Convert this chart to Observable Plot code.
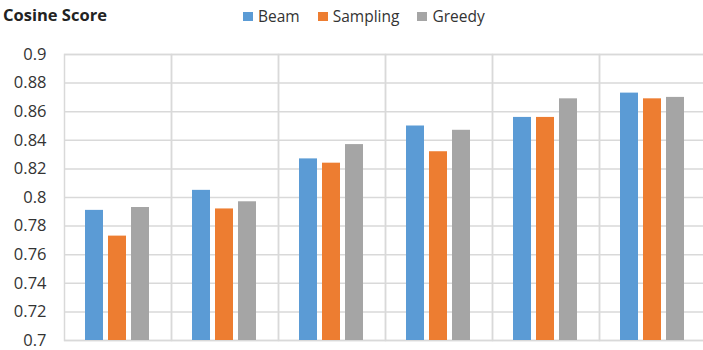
<!DOCTYPE html>
<html>
<head>
<meta charset="utf-8">
<script src="https://cdn.jsdelivr.net/npm/d3@7"></script>
<script src="https://cdn.jsdelivr.net/npm/@observablehq/plot@0.6"></script>
<style>
  html, body { margin: 0; padding: 0; background: #fff; overflow: hidden; }
  #wrap { position: relative; width: 703px; height: 350px; font-family: "Open Sans", sans-serif; }
  #title { position: absolute; left: 3px; top: 4px; font-weight: bold; font-size: 16.5px; line-height: 22px; color: #222; }
  #legend { position: absolute; left: 243px; top: 5px; font-size: 15.5px; line-height: 22px; color: #333; display: flex; }
  .item { display: flex; align-items: center; margin-right: 18px; }
  .sw { width: 10px; height: 9px; margin-right: 5px; }
  #chart { position: absolute; left: 0; top: 30px; }
</style>
</head>
<body>
<div id="wrap">
  <div id="title">Cosine Score</div>
  <div id="legend"></div>
  <div id="chart"></div>
</div>
<script>
const groups = ["1", "2", "3", "4", "5", "6"];
const seriesNames = ["Beam", "Sampling", "Greedy"];
const seriesColors = ["#5B9BD5", "#ED7D31", "#A5A5A5"];
const beam     = [0.791, 0.805, 0.827, 0.850, 0.856, 0.873];
const sampling = [0.773, 0.792, 0.824, 0.832, 0.856, 0.869];
const greedy   = [0.793, 0.797, 0.837, 0.847, 0.869, 0.870];
const yTicks = [0.7, 0.72, 0.74, 0.76, 0.78, 0.8, 0.82, 0.84, 0.86, 0.88, 0.9];

const seriesValues = [beam, sampling, greedy];
const data = [];
groups.forEach((g, i) => {
  seriesNames.forEach((s, j) => data.push({group: g, series: s, value: seriesValues[j][i]}));
});

const legend = document.getElementById("legend");
seriesNames.forEach((s, j) => {
  const it = document.createElement("div");
  it.className = "item";
  it.innerHTML = `<span class="sw" style="background:${seriesColors[j]}"></span><span>${s}</span>`;
  legend.appendChild(it);
});

const grid = "#d9d9d9";
const chart = Plot.plot({
  width: 703,
  height: 320,
  marginTop: 24,
  marginBottom: 10,
  marginLeft: 61,
  marginRight: -5,
  style: {fontFamily: "'Open Sans', sans-serif", fontSize: "16px", color: "#333", background: "transparent"},
  fx: {domain: groups, padding: 0, axis: null},
  x: {domain: seriesNames, paddingInner: 0.2, paddingOuter: 0.88, axis: null},
  y: {domain: [yTicks[0], yTicks[yTicks.length - 1]], label: null},
  color: {domain: seriesNames, range: seriesColors},
  marks: [
    Plot.gridY(yTicks, {stroke: grid, strokeOpacity: 1, strokeWidth: 1.5}),
    Plot.frame({stroke: grid, strokeWidth: 1.5}),
    Plot.barY(data, {fx: "group", x: "series", y1: yTicks[0], y2: "value", fill: "series"}),
    Plot.axisY(yTicks, {label: null, tickSize: 0, tickPadding: 18, tickFormat: d => String(+d.toFixed(2)), fontSize: 16.5, fill: "#333"})
  ]
});
document.getElementById("chart").appendChild(chart);
</script>
</body>
</html>
